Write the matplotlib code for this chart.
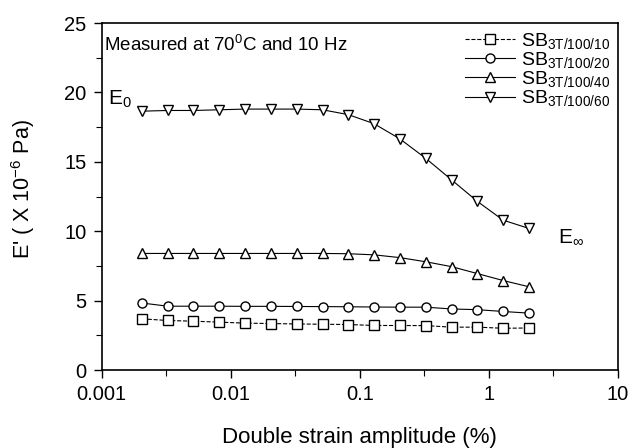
import matplotlib
matplotlib.use("Agg")
import matplotlib.pyplot as plt
from matplotlib.ticker import MultipleLocator, FixedLocator, NullFormatter

plt.rcParams['font.family'] = ['Liberation Sans', 'DejaVu Sans']
plt.rcParams['mathtext.fontset'] = 'custom'
plt.rcParams['mathtext.rm'] = 'Liberation Sans'
plt.rcParams['mathtext.it'] = 'Liberation Sans'
plt.rcParams['mathtext.default'] = 'regular'

strain = [0.00205, 0.00325, 0.00515, 0.00816, 0.0129, 0.0205, 0.0325, 0.0515,
          0.0816, 0.129, 0.205, 0.325, 0.515, 0.816, 1.29, 2.05]

sb10 = [3.69, 3.57, 3.52, 3.45, 3.38, 3.35, 3.32, 3.30,
        3.28, 3.21, 3.21, 3.20, 3.09, 3.09, 3.01, 3.03]
sb20 = [4.83, 4.60, 4.60, 4.60, 4.59, 4.59, 4.58, 4.57,
        4.56, 4.54, 4.53, 4.53, 4.40, 4.35, 4.22, 4.10]
sb40 = [8.40, 8.40, 8.40, 8.40, 8.40, 8.40, 8.40, 8.40,
        8.38, 8.30, 8.10, 7.80, 7.45, 6.95, 6.45, 6.00]
sb60 = [18.65, 18.70, 18.70, 18.75, 18.80, 18.80, 18.80, 18.75,
        18.40, 17.75, 16.65, 15.25, 13.70, 12.15, 10.80, 10.20]

labels = ['SB$_{3T/100/10}$', 'SB$_{3T/100/20}$',
          'SB$_{3T/100/40}$', 'SB$_{3T/100/60}$']
markers = ['s', 'o', '^', 'v']
styles = ['--', '-', '-', '-']

fig = plt.figure(figsize=(6.35, 4.48), dpi=100)
ax = fig.add_axes([0.160, 0.174, 0.813, 0.7746])

for vals, m, ls, lab in zip([sb10, sb20, sb40, sb60], markers, styles, labels):
    ax.plot(strain, vals, linestyle=ls, color='black', linewidth=0.8,
            marker=m, markersize=6.5, markerfacecolor='white',
            markeredgecolor='black', markeredgewidth=1.0, label=lab)

ax.set_xscale('log')
ax.set_xlim(0.001, 10)
ax.set_ylim(0, 25)
ax.yaxis.set_major_locator(MultipleLocator(5))
ax.yaxis.set_minor_locator(MultipleLocator(2.5))
ax.set_xticks([0.001, 0.01, 0.1, 1, 10])
ax.set_xticklabels(['0.001', '0.01', '0.1', '1', '10'])
ax.xaxis.set_minor_locator(FixedLocator([0.00316, 0.0316, 0.316, 3.16]))
ax.xaxis.set_minor_formatter(NullFormatter())

ax.tick_params(which='major', direction='out', length=6, width=1, labelsize=14.5,
               top=False, right=False, pad=5)
ax.tick_params(which='minor', direction='out', length=4, width=0.8,
               top=False, right=False)
for sp in ax.spines.values():
    sp.set_linewidth(1.2)

ax.set_xlabel('Double strain amplitude (%)', fontsize=16)
ax.xaxis.set_label_coords(0.5, -0.165)
ax.set_ylabel("E' ( X 10$^{-6}$ Pa)", fontsize=15.5)
ax.yaxis.set_label_coords(-0.125, 0.52)

ax.text(0.004, 0.937, 'Measured at 70$^{0}$C and 10 Hz', transform=ax.transAxes,
        fontsize=13.5, va='center', ha='left')
ax.text(0.012, 0.764, 'E$_{0}$', transform=ax.transAxes, fontsize=15,
        va='baseline', ha='left')
ax.text(0.884, 0.366, 'E$_{\\infty}$', transform=ax.transAxes, fontsize=15,
        va='baseline', ha='left')

ax.legend(loc='upper right', frameon=False, fontsize=14, handlelength=2.6,
          handletextpad=0.3, labelspacing=-0.04, borderaxespad=0.0,
          bbox_to_anchor=(1.0, 1.0))

fig.savefig('out.png', dpi=100)
